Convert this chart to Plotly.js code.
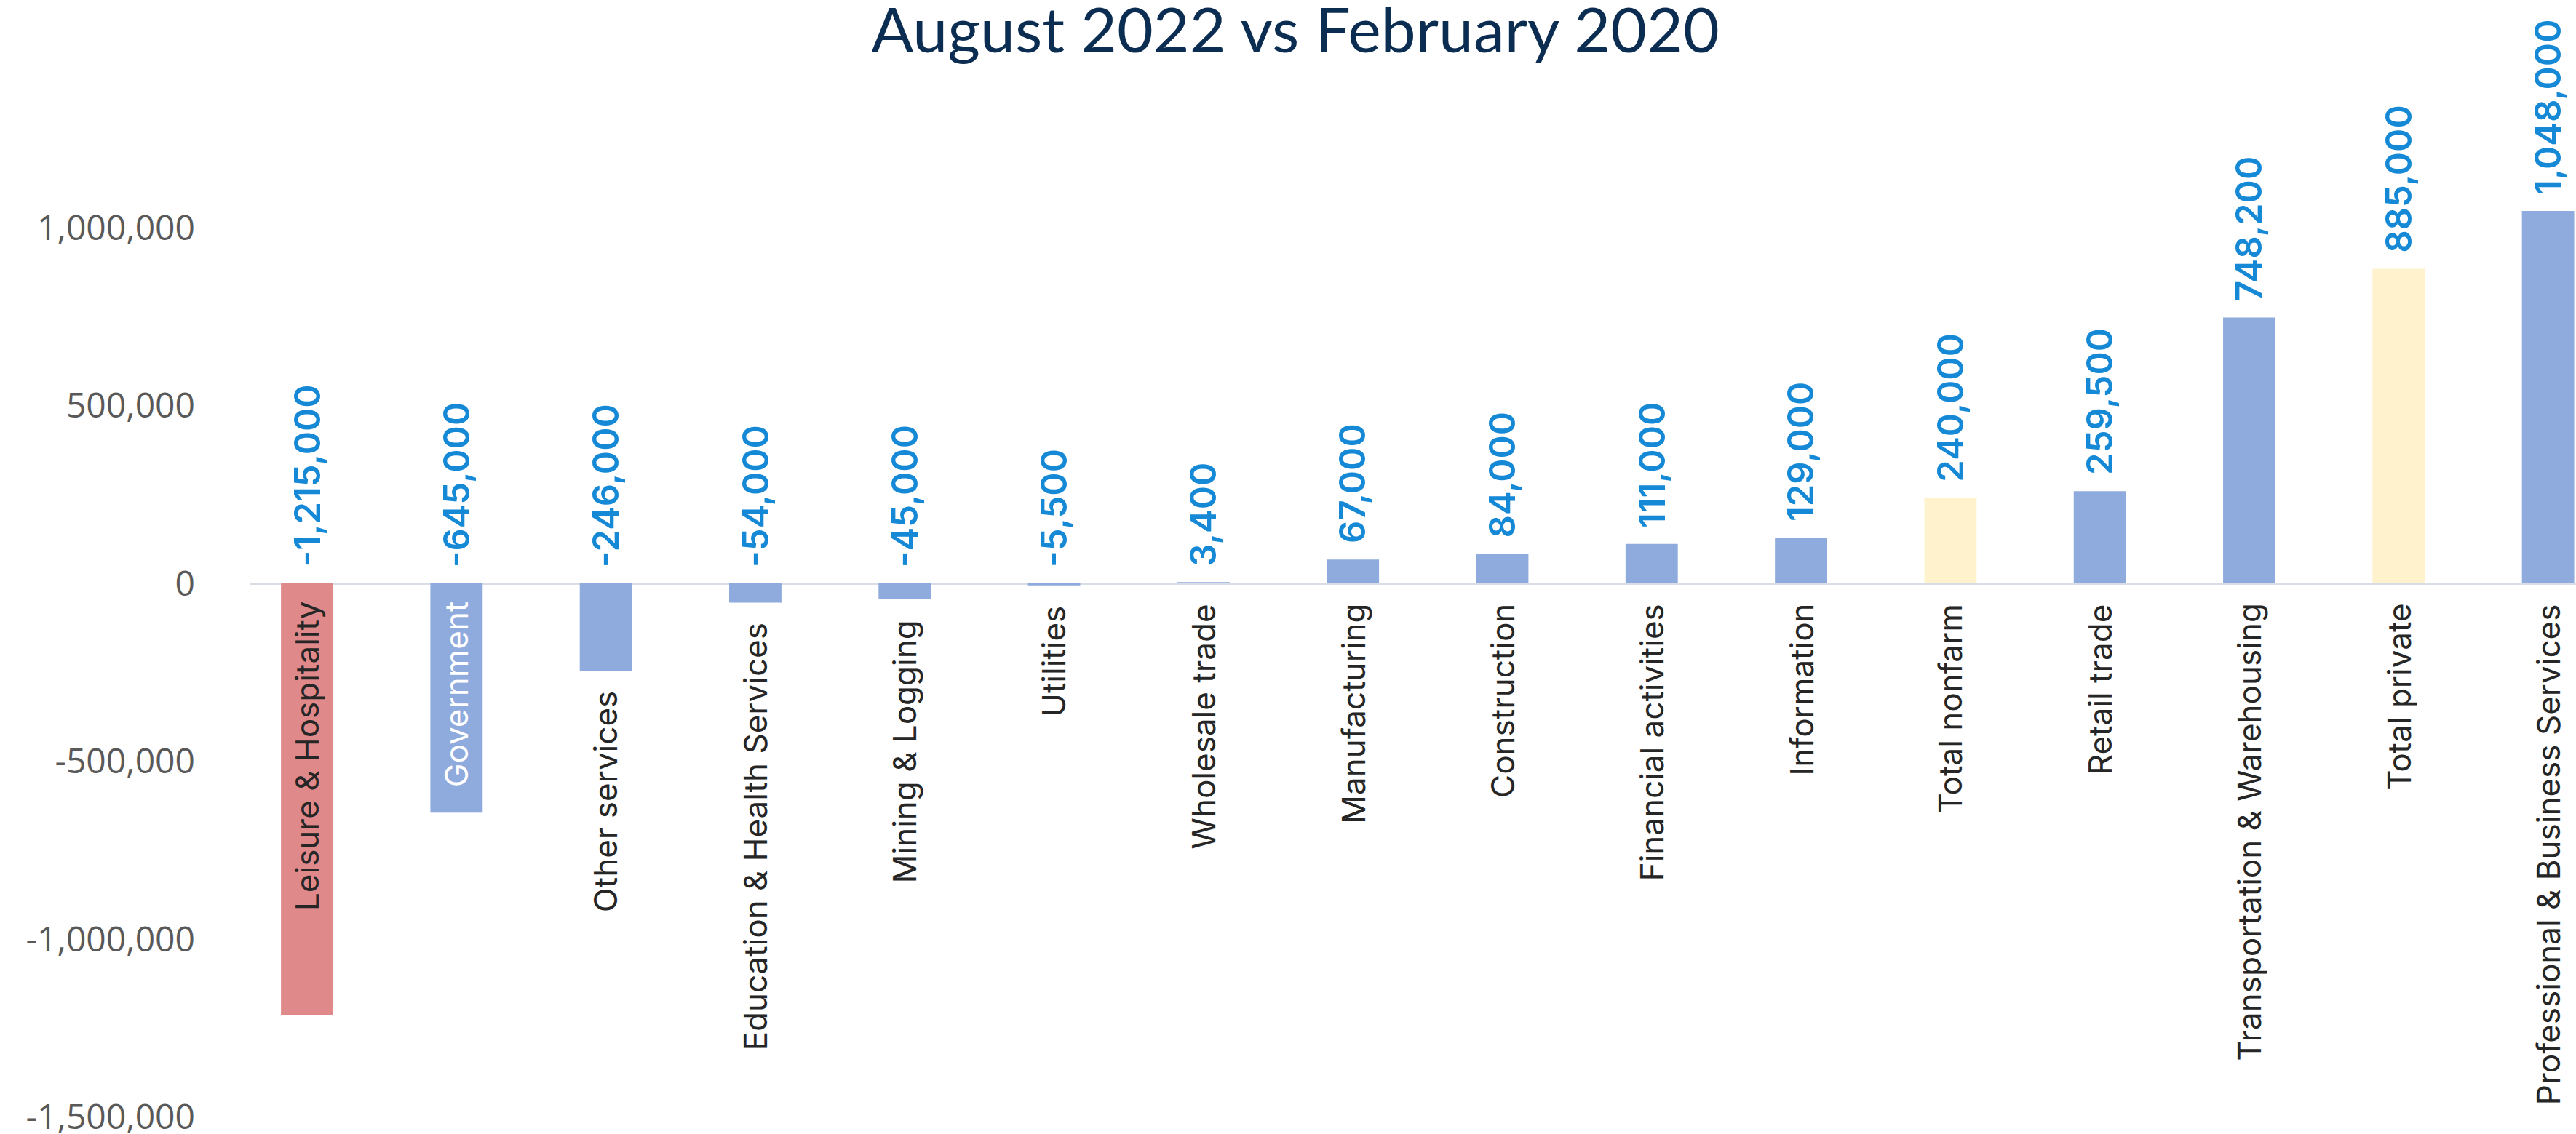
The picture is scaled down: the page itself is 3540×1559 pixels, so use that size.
<!DOCTYPE html>
<html>
<head>
<meta charset="utf-8">
<script src="https://cdn.plot.ly/plotly-3.0.1.min.js"></script>
<style>html,body{margin:0;padding:0;background:#fff;}</style>
</head>
<body>
<div id="chart" style="width:3540px;height:1559px;"></div>
<script>
const categories = ["Leisure & Hospitality", "Government", "Other services", "Education & Health Services",
  "Mining & Logging", "Utilities", "Wholesale trade", "Manufacturing", "Construction",
  "Financial activities", "Information", "Total nonfarm", "Retail trade",
  "Transportation & Warehousing", "Total private", "Professional & Business Services"];
const values = [-1215000, -645000, -246000, -54000, -45000, -5500, 3400, 67000, 84000,
  111000, 129000, 240000, 259500, 748200, 885000, 1048000];
const yTickVals = [-1500000, -1000000, -500000, 0, 500000, 1000000];
const titleText = "August 2022 vs February 2020";

// styles
const BLUE = "#8faadc", RED = "#e0898b", YELLOW = "#fff2cc";
const barColors = categories.map(c => c === "Leisure & Hospitality" ? RED :
  (c === "Total nonfarm" || c === "Total private") ? YELLOW : BLUE);
const catLabelColors = categories.map(c => c === "Government" ? "#ffffff" : "#262626");

const fmt = v => v.toLocaleString("en-US");

const trace = {
  type: "bar",
  x: categories,
  y: values,
  width: 0.35,
  marker: {color: barColors, line: {width: 0}},
  hoverinfo: "none",
  textposition: "none"
};

const annotations = [];
values.forEach((v, i) => {
  annotations.push({
    x: categories[i], y: Math.max(v, 0), xref: "x", yref: "y",
    text: fmt(v), textangle: -90, showarrow: false,
    xanchor: "center", yanchor: "bottom", yshift: 20,
    font: {family: "Inter, Lato, sans-serif", size: 49, color: "#1589d6", weight: 600}
  });
  const inside = v < -500000;
  annotations.push({
    x: categories[i], y: inside ? 0 : Math.min(v, 0), xref: "x", yref: "y",
    text: categories[i], textangle: -90, showarrow: false,
    xanchor: "center", yanchor: "top", yshift: inside ? -22 : -26,
    font: {family: "Inter, Lato, sans-serif", size: 44, color: catLabelColors[i]}
  });
});

const layout = {
  width: 3540, height: 1559,
  margin: {l: 343, r: 0, t: 69, b: 22, pad: 0},
  paper_bgcolor: "#ffffff", plot_bgcolor: "#ffffff",
  showlegend: false,
  bargap: 0.65,
  title: {
    text: titleText,
    font: {family: "Lato, sans-serif", size: 86, color: "#0c2d52"},
    x: 1780 / 3540, xref: "container", xanchor: "center",
    y: 1 - 42 / 1559, yref: "container", yanchor: "middle"
  },
  xaxis: {
    type: "category",
    range: [-0.385, 15.187],
    showticklabels: false, showgrid: false, zeroline: false, showline: false, ticks: ""
  },
  yaxis: {
    range: [-1504000, 1500000],
    tickvals: yTickVals,
    ticktext: yTickVals.map(fmt),
    tickfont: {family: "Open Sans, sans-serif", size: 48, color: "#595959"},
    ticklabelstandoff: 74,
    ticklabeloverflow: "allow",
    showgrid: false, showline: false, ticks: "",
    zeroline: true, zerolinecolor: "#d9dee6", zerolinewidth: 3
  },
  annotations: annotations
};

Plotly.newPlot("chart", [trace], layout, {staticPlot: true, displayModeBar: false});
</script>
</body>
</html>
